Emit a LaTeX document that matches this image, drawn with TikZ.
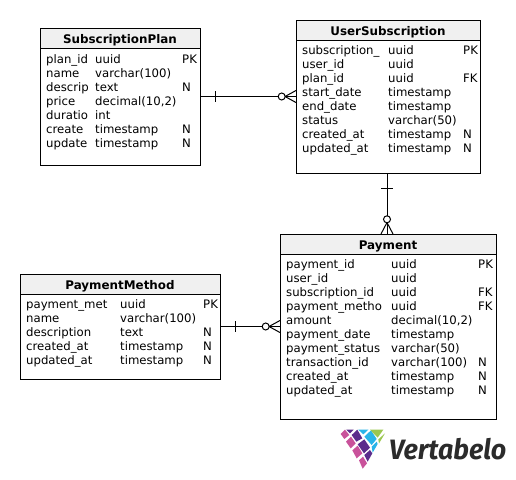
\documentclass[tikz,border=0pt]{standalone}
\usepackage{fontspec}
\setmainfont{DejaVu Sans}
\newfontfamily\logofont{Fira Sans}
\definecolor{hdr}{HTML}{F0F0F0}
\definecolor{lgpink}{HTML}{C9529B}
\definecolor{lgpurple}{HTML}{5B2D8C}
\definecolor{lgblue}{HTML}{29B5E8}
\definecolor{lggreen}{HTML}{9BC74F}
\definecolor{lgtext}{HTML}{2B2B2B}
\tikzset{
 x=1pt,y=-1pt,
 tablebox/.style={draw=black,line width=1pt,fill=white,inner sep=0pt,outer sep=0pt},
 headbox/.style={draw=black,line width=1pt,fill=hdr,inner sep=0pt},
 title/.style={font=\fontsize{11.9}{13}\selectfont\bfseries,anchor=base,inner sep=0pt},
 cell/.style={font=\fontsize{11.7}{13}\selectfont,anchor=base west,inner sep=0pt},
 conn/.style={line width=1pt,draw=black},
 logotext/.style={font=\logofont\fontsize{28}{30}\selectfont\bfseries\itshape,text=lgtext,anchor=base west,inner sep=0pt},
}
% #1 name, #2 x0, #3 y0, #4 x1, #5 y1, #6 title
\newcommand{\tablehead}[6]{%
 \node[tablebox,minimum width={(#4-#2)*1pt},minimum height={(#5-#3)*1pt}] (#1) at ({(#2+#4)/2},{(#3+#5)/2}) {};
 \path[headbox] (#1.north west) rectangle (#4,#3+20);
 \node[title] (#1-t) at ({(#2+#4)/2},#3+15) {#6};
}
% #1 first baseline, #2 x name, #3 x type, #4 x flag, #5 rows: name/type/flag
\newcommand{\rows}[5]{%
 \foreach \na/\ty/\fl [count=\i from 0] in {#5} {
  \node[cell] at (#2,{#1+14*\i}) {\na};
  \node[cell] at (#3,{#1+14*\i}) {\ty};
  \node[cell] at (#4,{#1+14*\i}) {\fl};
 }
}
\begin{document}
\begin{tikzpicture}
\useasboundingbox (0,0) rectangle (516,479);
\fill[white] (0,0) rectangle (516,479);
\tablehead{sp}{40}{28}{200}{165}{SubscriptionPlan}
\rows{63}{46}{95}{182}{plan\_id/uuid/PK,name/varchar(100)/,descrip/text/N,price/decimal(10{,}2)/,duratio/int/,create/timestamp/N,update/timestamp/N}
\tablehead{us}{296}{20}{480}{173}{UserSubscription}
\rows{54}{302}{388}{463}{subscription\_/uuid/PK,user\_id/uuid/,plan\_id/uuid/FK,start\_date/timestamp/,end\_date/timestamp/,status/varchar(50)/,created\_at/timestamp/N,updated\_at/timestamp/N}
\tablehead{pa}{280}{234}{496}{419}{Payment}
\rows{268}{286}{391}{478}{payment\_id/uuid/PK,user\_id/uuid/,subscription\_id/uuid/FK,payment\_metho/uuid/FK,amount/decimal(10{,}2)/,payment\_date/timestamp/,payment\_status/varchar(50)/,transaction\_id/varchar(100)/N,created\_at/timestamp/N,updated\_at/timestamp/N}
\tablehead{pm}{20}{274}{220}{379}{PaymentMethod}
\rows{308}{26}{120}{203}{payment\_met/uuid/PK,name/varchar(100)/,description/text/N,created\_at/timestamp/N,updated\_at/timestamp/N}
% connectors
\draw[conn] (sp.east |- 0,96.5) -- (us.west |- 0,96.5);
\draw[conn] (215,91) -- (215,102);
\draw[conn,fill=white] (281.7,96.5) circle (3.5);
\draw[conn] (285,96.5) -- (us.west |- 0,90.5) (285,96.5) -- (us.west |- 0,102.5);
\draw[conn] (us.south -| 387,0) -- (pa.north -| 387,0);
\draw[conn] (381,188.5) -- (393,188.5);
\draw[conn,fill=white] (387,219.3) circle (3.5);
\draw[conn] (387,222.5) -- (pa.north -| 381,0) (387,222.5) -- (pa.north -| 393,0);
\draw[conn] (pm.east |- 0,326.5) -- (pa.west |- 0,326.5);
\draw[conn] (235.7,321) -- (235.7,332);
\draw[conn,fill=white] (265.7,326.5) circle (3.5);
\draw[conn] (269,326.5) -- (pa.west |- 0,320.5) (269,326.5) -- (pa.west |- 0,332.5);
% logo
\begin{scope}[shift={(335,425)},x=0.3333pt,y=-0.3333pt]
\fill[lgpink] (17,27)--(30,14)--(43,30)--(28,42)--cycle;
\fill[lgpink] (33,50)--(48,35)--(62,55)--(47,70)--cycle;
\fill[lgpink] (52,76)--(68,62)--(82,85)--(65,100)--cycle;
\fill[lgpink] (72,106)--(84,95)--(96,115)--(83,131)--cycle;
\fill[lgpurple] (34,14)--(56,14)--(45,25)--cycle;
\fill[lgpurple] (50,30)--(67,14)--(82,40)--(64,50)--cycle;
\fill[lgpurple] (68,58)--(88,43)--(105,68)--(87,85)--cycle;
\fill[lgpurple] (88,90)--(105,75)--(112,85)--(98,110)--cycle;
\fill[lgblue] (70,14)--(100,14)--(85,28)--cycle;
\fill[lgblue] (88,35)--(108,16)--(125,42)--(110,60)--cycle;
\fill[lgblue] (110,65)--(125,50)--(128,57)--(113,83)--cycle;
\fill[lggreen] (105,14)--(145,14)--(128,38)--cycle;
\fill[lggreen] (130,43)--(150,25)--(132,55)--cycle;
\end{scope}
\node[logotext,xscale=0.96,transform shape=false] (logo) at (389,459) {Vertabelo};
\end{tikzpicture}
\end{document}
